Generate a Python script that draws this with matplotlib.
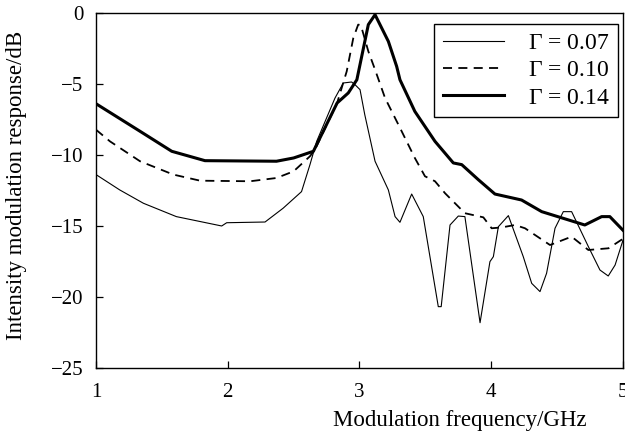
import matplotlib
matplotlib.use("Agg")
import matplotlib.pyplot as plt

plt.rcParams['font.family'] = ['Liberation Serif', 'DejaVu Serif']
plt.rcParams['mathtext.fontset'] = 'custom'
plt.rcParams['mathtext.rm'] = 'Liberation Serif'
plt.rcParams['mathtext.it'] = 'Liberation Serif:italic'

# Gamma = 0.07 (thin solid)
x_007 = [1.0, 1.18, 1.36, 1.61, 1.954, 1.992, 2.283, 2.42, 2.56, 2.624, 2.675, 2.814, 2.877,
         2.94, 2.966, 3.004, 3.04, 3.118, 3.219, 3.27, 3.307, 3.396, 3.484, 3.598, 3.62, 3.687,
         3.75, 3.80, 3.915, 3.99, 4.016, 4.054, 4.13, 4.243, 4.307, 4.37, 4.42, 4.484, 4.547,
         4.61, 4.737, 4.825, 4.888, 4.94, 5.0]
y_007 = [-11.38, -12.46, -13.4, -14.34, -15.0, -14.77, -14.72, -13.75, -12.58, -10.68, -9.04,
         -5.99, -4.93, -4.86, -5.05, -5.4, -7.16, -10.44, -12.46, -14.34, -14.74, -12.75, -14.34,
         -20.68, -20.68, -14.93, -14.3, -14.34, -21.81, -17.51, -17.16, -15.05, -14.27, -17.16,
         -19.04, -19.62, -18.33, -15.16, -13.99, -13.99, -16.45, -18.1, -18.52, -17.75, -16.0]

# Gamma = 0.10 (dashed)
x_010 = [1.0, 1.106, 1.334, 1.587, 1.79, 2.17, 2.37, 2.50, 2.624, 2.662, 2.83, 2.903, 2.953,
         2.99, 3.01, 3.067, 3.118, 3.194, 3.295, 3.42, 3.497, 3.573, 3.65, 3.80, 3.94, 4.003,
         4.08, 4.18, 4.256, 4.446, 4.61, 4.737, 4.89, 5.0]
y_010 = [-8.22, -9.04, -10.44, -11.38, -11.81, -11.85, -11.62, -11.15, -10.09, -9.62, -6.34,
         -4.11, -1.76, -0.82, -0.85, -2.70, -3.99, -5.99, -7.86, -10.21, -11.5, -11.85, -12.7,
         -14.1, -14.39, -15.16, -15.1, -14.93, -15.16, -16.34, -15.75, -16.69, -16.57, -15.9]

# Gamma = 0.14 (thick solid)
x_014 = [1.0, 1.334, 1.575, 1.827, 2.37, 2.50, 2.65, 2.83, 2.915, 2.98, 3.067, 3.118, 3.219,
         3.282, 3.307, 3.42, 3.573, 3.712, 3.776, 3.902, 4.028, 4.23, 4.383, 4.71, 4.838, 4.90,
         5.0]
y_014 = [-6.39, -8.33, -9.74, -10.40, -10.44, -10.21, -9.74, -6.34, -5.63, -4.70, -0.82, -0.12,
         -2.0, -3.76, -4.70, -6.93, -9.04, -10.56, -10.68, -11.74, -12.75, -13.17, -13.99,
         -14.93, -14.34, -14.34, -15.3]

labels = [r'$\mathit{\Gamma}$ = 0.07', r'$\mathit{\Gamma}$ = 0.10', r'$\mathit{\Gamma}$ = 0.14']
x_ticks = [1, 2, 3, 4, 5]
y_ticks = [0, -5, -10, -15, -20, -25]

fig = plt.figure(figsize=(6.25, 4.37), dpi=100)
ax = fig.add_axes([0.1536, 0.1579, 0.8432, 0.8124])

ax.plot(x_007, y_007, color='black', lw=0.8, label=labels[0])
ax.plot(x_010, y_010, color='black', lw=1.3, dashes=(5, 3.5), label=labels[1])
ax.plot(x_014, y_014, color='black', lw=2.2, label=labels[2])

ax.set_xlim(1, 5)
ax.set_ylim(-25, 0)
ax.set_xticks(x_ticks)
ax.set_yticks(y_ticks)
ax.tick_params(direction='in', length=5, width=0.9, labelsize=15,
               top=False, right=False)
ax.tick_params(axis='x', pad=11)
ax.tick_params(axis='y', pad=9)
for s in ax.spines.values():
    s.set_linewidth(1.0)

ax.set_xlabel('Modulation frequency/GHz', fontsize=16.5)
ax.xaxis.set_label_coords(0.69, -0.118)
ax.set_ylabel('Intensity modulation response/dB', fontsize=16.5)
ax.yaxis.set_label_coords(-0.13, 0.515)

leg = ax.legend(loc='upper right', bbox_to_anchor=(0.990, 0.969), borderaxespad=0,
                fontsize=17, handlelength=2.6, fancybox=False, framealpha=1,
                edgecolor='black', labelspacing=0.25, handletextpad=1.0,
                borderpad=0.35)
leg.get_frame().set_linewidth(1.0)

fig.savefig('out.png', dpi=100)
